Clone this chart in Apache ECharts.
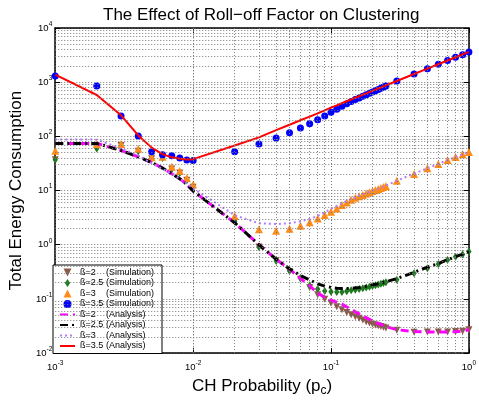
<!DOCTYPE html>
<html>
<head>
<meta charset="utf-8">
<script src="https://cdn.jsdelivr.net/npm/echarts@6.0.0/dist/echarts.min.js"></script>
<style>
  html, body { margin: 0; padding: 0; background: #fff; }
  #main { width: 479px; height: 402px; }
</style>
</head>
<body>
<div id="main"></div>
<script>
// CH probability grid (x)
const pc = [0.001, 0.002, 0.003, 0.004, 0.005, 0.006, 0.007, 0.008, 0.009, 0.01,
  0.02, 0.03, 0.04, 0.05, 0.06, 0.07, 0.08, 0.09,
  0.1, 0.11, 0.12, 0.13, 0.14, 0.15, 0.16, 0.17, 0.18, 0.19, 0.2, 0.21, 0.22, 0.23, 0.24, 0.25,
  0.3, 0.4, 0.5, 0.6, 0.7, 0.8, 0.9, 1.0];

// simulation
const simB2 = [37, 60, 68, 53, 38.5, 40, 25, 21, 15.5, 11.5,
  2.67, 0.91, 0.51, 0.32, 0.23, 0.16, 0.12, 0.099,
  0.083, 0.072, 0.063, 0.056, 0.051, 0.047, 0.044, 0.041, 0.038, 0.036, 0.034, 0.033, 0.032, 0.031, 0.030, 0.029,
  0.0263, 0.0243, 0.0244, 0.0244, 0.0244, 0.0251, 0.0252, 0.027];
const simB25 = [37, 60, 68, 53, 38.5, 40, 25, 21, 15.5, 11.5,
  2.67, 0.91, 0.50, 0.33, 0.244, 0.177, 0.152, 0.14,
  0.136, 0.134, 0.134, 0.138, 0.144, 0.148, 0.152, 0.158, 0.163, 0.168, 0.174, 0.179, 0.185, 0.19, 0.197, 0.203,
  0.227, 0.298, 0.37, 0.44, 0.52, 0.6, 0.66, 0.75];
const simB3 = [54.5, 72, 72, 59, 41, 42, 27.5, 23, 17, 12.9,
  3.38, 1.93, 1.81, 1.97, 2.25, 2.6, 3.05, 3.52,
  4.05, 4.65, 5.4, 6.05, 6.75, 7.35, 7.84, 8.32, 8.81, 9.29, 9.77, 10.2, 10.7, 11.2, 11.6, 12.1,
  15.1, 20.3, 25.7, 30.8, 36.5, 41.7, 46.7, 51.5];
const simB35 = [1300, 850, 238, 102, 52, 46, 44, 40, 36.5, 36,
  52, 72, 93, 117, 143, 171, 202, 238,
  280, 316, 361, 400, 440, 477, 512, 548, 585, 622, 659, 697, 735, 773, 812, 852,
  1052, 1410, 1770, 2150, 2500, 2880, 3220, 3600];

// analysis
const anB2 = [74, 74, 55, 42, 33, 26, 20.5, 16.5, 13, 9.8,
  2.55, 1.0, 0.54, 0.355, 0.24, 0.175, 0.128, 0.107,
  0.094, 0.087, 0.08, 0.071, 0.064, 0.058, 0.053, 0.049, 0.045, 0.042, 0.039, 0.037, 0.035, 0.034, 0.032, 0.031,
  0.027, 0.025, 0.0245, 0.0245, 0.0245, 0.0248, 0.0255, 0.027];
const anB25 = [74, 74, 55, 42, 33, 26, 20.5, 16.5, 13, 9.8,
  2.55, 1.0, 0.54, 0.36, 0.27, 0.225, 0.19, 0.172,
  0.163, 0.157, 0.155, 0.155, 0.157, 0.16, 0.163, 0.167, 0.172, 0.177, 0.182, 0.187, 0.192, 0.197, 0.202, 0.207,
  0.237, 0.31, 0.385, 0.45, 0.53, 0.6, 0.67, 0.74];
const anB3 = [88, 87, 60, 44, 32, 25, 20.5, 16.5, 13.5, 11,
  3.5, 2.5, 2.4, 2.5, 2.7, 3.0, 3.4, 3.9,
  4.6, 5.2, 5.8, 6.4, 7.0, 7.5, 8.0, 8.5, 9.0, 9.5, 10.0, 10.5, 10.9, 11.4, 11.8, 12.3,
  15.2, 20.5, 25.8, 31, 36.5, 41.8, 46.8, 52];
const anB35 = [1380, 580, 245, 104, 62, 47, 41, 38.5, 37.5, 38,
  68, 96, 130, 164, 198, 232, 266, 301,
  339, 374, 409, 444, 479, 515, 550, 586, 621, 657, 692, 728, 764, 799, 835, 871,
  1051, 1414, 1779, 2146, 2515, 2887, 3259, 3632];

const font = 'Liberation Sans, Arial, Helvetica, sans-serif';
const toPts = arr => arr.map((v, i) => [pc[i], v]);

// dotted minor grid (2..9 in each decade)
const minorX = [], minorY = [];
for (let d = -3; d < 0; d++) for (let m = 2; m <= 9; m++) minorX.push(m * Math.pow(10, d));
for (let d = -2; d < 4; d++) for (let m = 2; m <= 9; m++) minorY.push(m * Math.pow(10, d));

const gridDots = { type: [1, 2], color: '#7a7a7a', width: 1 };

const supLabel = v => {
  const e = Math.round(Math.log10(v));
  return '{b|10}{s|' + e + '}';
};
const labelRich = {
  b: { fontSize: 9.5, fontFamily: font, color: '#000' },
  s: { fontSize: 6.5, fontFamily: font, color: '#000', padding: [0, 0, 8, 0] }
};

// marker shapes (paths keep their aspect in the legend)
const triDown = 'path://M0,0 L10,0 L5,10 Z';
const triUp = 'path://M5,0 L10,10 L0,10 Z';
const diamond = 'path://M5,0 L9,6 L5,12 L1,6 Z';

const chart = echarts.init(document.getElementById('main'));

const simSeries = (name, data, symbol, size, color) => ({
  name, type: 'scatter', data: toPts(data), symbol, symbolSize: size, symbolKeepAspect: true,
  itemStyle: { color, opacity: 1 }, z: 3
});
const anSeries = (name, data, color, type, width) => ({
  name, type: 'line', data: toPts(data), symbol: 'none', showSymbol: false,
  lineStyle: { color, type, width }, itemStyle: { color }, z: 4
});

const names = ['\u00df=2 (Simulation)', '\u00df=2.5 (Simulation)', '\u00df=3 (Simulation)', '\u00df=3.5 (Simulation)',
  '\u00df=2 (Analysis)', '\u00df=2.5 (Analysis)', '\u00df=3 (Analysis)', '\u00df=3.5 (Analysis)'];

chart.setOption({
  animation: false,
  title: {
    text: 'The Effect of Roll\u2212off Factor on Clustering',
    left: 98, top: 2,
    textStyle: { fontSize: 17, fontWeight: 'normal', fontFamily: font, color: '#000' }
  },
  grid: { left: 49, right: 9, top: 28, bottom: 43 },
  legend: {
    orient: 'vertical', left: 53, top: 265,
    backgroundColor: '#fff', borderColor: '#000', borderWidth: 1, borderRadius: 0,
    padding: [3, 8, 3, 6],
    itemWidth: 15, itemHeight: 8, itemGap: 1.5,
    textStyle: {
      fontSize: 9, fontFamily: font, color: '#000', lineHeight: 8,
      rich: {
        a: { width: 26, fontSize: 9, lineHeight: 8, fontFamily: font },
        b: { fontSize: 9, lineHeight: 8, fontFamily: font }
      }
    },
    formatter: name => {
      const i = name.indexOf(' (');
      return '{a|' + name.slice(0, i) + '}{b|' + name.slice(i + 1) + '}';
    },
    data: names.map((n, i) => i < 4 ? { name: n } : { name: n, itemStyle: { opacity: 0 } })
  },
  xAxis: [{
    type: 'log', logBase: 10, min: 0.001, max: 1,
    name: '{n|CH Probability (p}{c|c}{n|)}', nameLocation: 'middle', nameGap: 18,
    nameTextStyle: {
      rich: {
        n: { fontSize: 17, fontFamily: font, color: '#000' },
        c: { fontSize: 12, fontFamily: font, color: '#000', padding: [10, 0, 0, 0] }
      }
    },
    axisLine: { show: true, lineStyle: { color: '#000', width: 1.5 } },
    axisTick: { inside: true, length: 5, lineStyle: { color: '#000' } },
    axisLabel: { formatter: supLabel, rich: labelRich, margin: 7 },
    splitLine: { show: true, lineStyle: gridDots }
  }, {
    type: 'log', logBase: 10, min: 0.001, max: 1, position: 'top',
    axisLine: { show: true, lineStyle: { color: '#000', width: 1.5 } },
    axisTick: { inside: true, length: 5, lineStyle: { color: '#000' } },
    axisLabel: { show: false }, splitLine: { show: false }
  }],
  yAxis: [{
    type: 'log', logBase: 10, min: 0.01, max: 10000,
    name: 'Total Energy Consumption', nameLocation: 'middle', nameGap: 26,
    nameTextStyle: { fontSize: 17, fontFamily: font, color: '#000' },
    axisLine: { show: true, lineStyle: { color: '#000', width: 1.5 } },
    axisTick: { inside: true, length: 5, lineStyle: { color: '#000' } },
    axisLabel: { formatter: supLabel, rich: labelRich, margin: 3 },
    splitLine: { show: true, lineStyle: gridDots }
  }, {
    type: 'log', logBase: 10, min: 0.01, max: 10000, position: 'right',
    axisLine: { show: true, lineStyle: { color: '#000', width: 1.5 } },
    axisTick: { inside: true, length: 5, lineStyle: { color: '#000' } },
    axisLabel: { show: false }, splitLine: { show: false }
  }],
  series: [
    Object.assign(simSeries(names[0], simB2, triDown, 7, '#8c5a4b'), {
      markLine: {
        silent: true, symbol: ['none', 'none'], label: { show: false }, animation: false,
        lineStyle: gridDots, emphasis: { disabled: true },
        data: minorX.map(v => ({ xAxis: v })).concat(minorY.map(v => ({ yAxis: v })))
      }
    }),
    simSeries(names[1], simB25, diamond, 8, '#1f7a1f'),
    simSeries(names[2], simB3, triUp, 8, '#ff8c1a'),
    simSeries(names[3], simB35, 'circle', 7, '#0000ff'),
    anSeries(names[4], anB2, '#ff00ff', [8, 5], 3),
    anSeries(names[5], anB25, '#000000', [8, 4, 2, 4], 3),
    anSeries(names[6], anB3, '#b47cff', [2, 3], 2),
    anSeries(names[7], anB35, '#ff0000', 'solid', 2)
  ]
});
</script>
</body>
</html>
